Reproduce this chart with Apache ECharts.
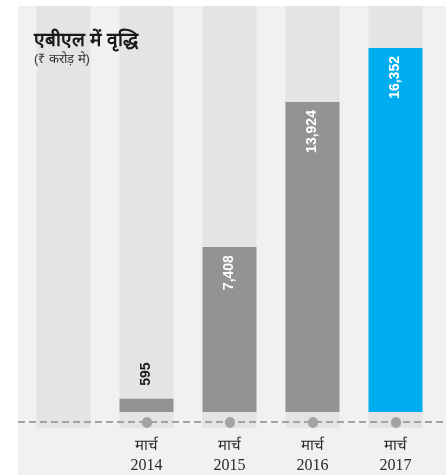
<!DOCTYPE html>
<html>
<head>
<meta charset="utf-8">
<script src="https://cdn.jsdelivr.net/npm/echarts@6/dist/echarts.min.js"></script>
<style>
    html, body { margin: 0; padding: 0; background: #fff; }
    #chart { width: 446px; height: 475px; }
</style>
</head>
<body>
<div id="chart"></div>
<script>
// first slot is an empty column that holds the title
const years = ['', '2014', '2015', '2016', '2017'];
const monthLabel = 'मार्च';
const values = [null, 595, 7408, 13924, 16352];

const grey = '#939396';
const blue = '#00aeef';
const numFont = '"Liberation Sans Narrow", "Arial Narrow", "Liberation Sans", sans-serif';
const serif = '"Liberation Serif", "DejaVu Serif", serif';

const chart = echarts.init(document.getElementById('chart'));

const lastIdx = values.length - 1;
const barData = values.map(function (v, i) {
    if (v === null) return null;
    const item = { value: v, itemStyle: { color: i === lastIdx ? blue : grey } };
    if (v < 2000) {
        // bar too short, label sits above it in dark text
        item.label = { position: 'top', align: 'left', color: '#1a1a1a', distance: 13 };
    }
    return item;
});

chart.setOption({
    animation: false,
    backgroundColor: '#ffffff',
    graphic: [
        {
            type: 'rect',
            z: -100,
            shape: { x: 18, y: 6, width: 428, height: 469 },
            style: { fill: '#f1f1f1' },
            silent: true
        },
        {
            type: 'line',
            z: 10,
            shape: { x1: 18, y1: 422, x2: 446, y2: 422 },
            style: { stroke: '#a3a3a3', lineWidth: 2, lineDash: [7, 4] },
            silent: true
        }
    ],
    title: {
        text: 'एबीएल में वृद्धि',
        subtext: '(₹ करोड़ मे)',
        left: 29,
        top: 26,
        itemGap: 3,
        textStyle: { fontSize: 19, fontWeight: 'bold', color: '#1a1a1a' },
        subtextStyle: { fontSize: 13, color: '#333333' }
    },
    grid: { left: 22, right: 9, top: 6, bottom: 47 },
    xAxis: {
        type: 'category',
        data: years,
        offset: -6,
        z: 20,
        axisLine: { show: false, onZero: false },
        axisTick: {
            show: true,
            alignWithLabel: true,
            length: 1,
            inside: false,
            interval: function (idx) { return idx > 0; },
            lineStyle: { color: '#a3a3a3', width: 10, cap: 'round' }
        },
        axisLabel: {
            interval: 0,
            margin: 15,
            color: '#2a2a2a',
            formatter: function (v) { return v ? '{m|' + monthLabel + '}\n{y|' + v + '}' : ''; },
            rich: {
                m: { fontSize: 15, fontFamily: serif, color: '#2a2a2a', lineHeight: 19 },
                y: { fontSize: 16, fontFamily: serif, color: '#2a2a2a', lineHeight: 19 }
            }
        }
    },
    yAxis: {
        type: 'value',
        min: -720,
        max: 18240,
        show: false
    },
    series: [{
        type: 'bar',
        barWidth: 54,
        data: barData,
        showBackground: true,
        backgroundStyle: { color: '#e4e4e6' },
        label: {
            show: true,
            position: 'insideTop',
            rotate: 90,
            align: 'right',
            verticalAlign: 'middle',
            distance: 8,
            color: '#ffffff',
            fontSize: 14,
            fontWeight: 'bold',
            fontFamily: numFont,
            formatter: function (p) { return p.value.toLocaleString('en-US'); }
        }
    }]
});
</script>
</body>
</html>
